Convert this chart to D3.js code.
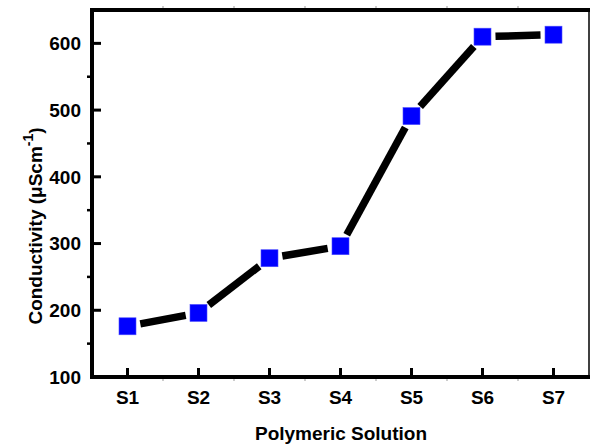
<!DOCTYPE html>
<html>
<head>
<meta charset="utf-8">
<script src="https://cdn.jsdelivr.net/npm/d3@7"></script>
<style>
  body { margin: 0; background: #fff; }
  text { font-family: "Liberation Sans", Arial, sans-serif; font-weight: bold; }
</style>
</head>
<body>
<svg id="chart" width="592" height="446"></svg>
<script>
// data
var samples = ["S1", "S2", "S3", "S4", "S5", "S6", "S7"];
var conductivity = [176, 196, 278, 296, 491, 610, 613];
var yTicks = [100, 200, 300, 400, 500, 600];

var plotLeft = 92, plotRight = 589, plotTop = 10, plotBottom = 377;

var svg = d3.select("#chart");

var x = d3.scaleLinear().domain([0.5, 7.5]).range([plotLeft, plotRight]);
var y = d3.scaleLinear().domain([100, 650]).range([plotBottom, plotTop]);

// minor ticks (midpoints)
var xMinor = d3.range(1.5, 7, 1);
var yMinor = [150, 250, 350, 450, 550];

// top + bottom faint minor ticks
svg.selectAll("line.xminb").data(xMinor).enter().append("line")
  .attr("x1", function(d) { return x(d); }).attr("x2", function(d) { return x(d); })
  .attr("y1", plotBottom).attr("y2", plotBottom + 4)
  .attr("stroke", "#999").attr("stroke-width", 1);
svg.selectAll("line.xmint").data(xMinor).enter().append("line")
  .attr("x1", function(d) { return x(d); }).attr("x2", function(d) { return x(d); })
  .attr("y1", plotTop).attr("y2", plotTop - 4)
  .attr("stroke", "#999").attr("stroke-width", 1);

// left minor ticks, outward
svg.selectAll("line.ymin").data(yMinor).enter().append("line")
  .attr("x1", plotLeft - 5).attr("x2", plotLeft)
  .attr("y1", function(d) { return y(d); }).attr("y2", function(d) { return y(d); })
  .attr("stroke", "#000").attr("stroke-width", 2.5);

// major ticks, inward
svg.selectAll("line.ymaj").data(yTicks).enter().append("line")
  .attr("x1", plotLeft).attr("x2", plotLeft + 9)
  .attr("y1", function(d) { return y(d); }).attr("y2", function(d) { return y(d); })
  .attr("stroke", "#000").attr("stroke-width", 3);
svg.selectAll("line.xmaj").data(samples).enter().append("line")
  .attr("x1", function(d, i) { return x(i + 1); }).attr("x2", function(d, i) { return x(i + 1); })
  .attr("y1", plotBottom).attr("y2", plotBottom - 9)
  .attr("stroke", "#000").attr("stroke-width", 3);

// frame
svg.append("line").attr("x1", plotRight).attr("x2", plotRight).attr("y1", plotTop).attr("y2", plotBottom)
  .attr("stroke", "#000").attr("stroke-width", 1.5);
svg.append("line").attr("x1", plotLeft - 2).attr("x2", plotRight + 1).attr("y1", plotTop).attr("y2", plotTop)
  .attr("stroke", "#000").attr("stroke-width", 4);
svg.append("line").attr("x1", plotLeft - 2).attr("x2", plotRight + 1).attr("y1", plotBottom).attr("y2", plotBottom)
  .attr("stroke", "#000").attr("stroke-width", 4);
svg.append("line").attr("x1", plotLeft).attr("x2", plotLeft).attr("y1", plotTop - 2).attr("y2", plotBottom + 2)
  .attr("stroke", "#000").attr("stroke-width", 4);

// tick labels
svg.selectAll("text.ylab").data(yTicks).enter().append("text")
  .attr("x", plotLeft - 11).attr("y", function(d) { return y(d); })
  .attr("dy", "0.36em")
  .attr("text-anchor", "end")
  .style("font-size", "19px")
  .text(function(d) { return d; });
svg.selectAll("text.xlab").data(samples).enter().append("text")
  .attr("x", function(d, i) { return x(i + 1); }).attr("y", plotBottom + 27)
  .attr("text-anchor", "middle")
  .style("font-size", "19px")
  .text(function(d) { return d; });

// axis titles
svg.append("text")
  .attr("x", 341).attr("y", 440)
  .attr("text-anchor", "middle")
  .style("font-size", "19px")
  .text("Polymeric Solution");

var yt = svg.append("text")
  .attr("transform", "translate(42,226) rotate(-90)")
  .attr("text-anchor", "middle")
  .style("font-size", "19px");
yt.append("tspan").text("Conductivity (\u03bcScm");
yt.append("tspan").attr("dy", -9).style("font-size", "14px").text("-1");
yt.append("tspan").attr("dy", 9).text(")");

// line segments with gaps around the markers
var pts = conductivity.map(function(v, i) { return [x(i + 1), y(v)]; });
var gap = 13;
d3.pairs(pts).forEach(function(p) {
  var a = p[0], b = p[1];
  var dx = b[0] - a[0], dy = b[1] - a[1];
  var len = Math.sqrt(dx * dx + dy * dy);
  var ux = dx / len, uy = dy / len;
  svg.append("line")
    .attr("x1", a[0] + ux * gap).attr("y1", a[1] + uy * gap)
    .attr("x2", b[0] - ux * gap).attr("y2", b[1] - uy * gap)
    .attr("stroke", "#000").attr("stroke-width", 7.5);
});

// markers
var ms = 17;
svg.selectAll("rect.pt").data(conductivity).enter().append("rect")
  .attr("x", function(d, i) { return x(i + 1) - ms / 2; })
  .attr("y", function(d) { return y(d) - ms / 2; })
  .attr("width", ms).attr("height", ms)
  .attr("fill", "#0000ff")
  .attr("stroke", "#4d4dff").attr("stroke-width", 0.6);
</script>
</body>
</html>
